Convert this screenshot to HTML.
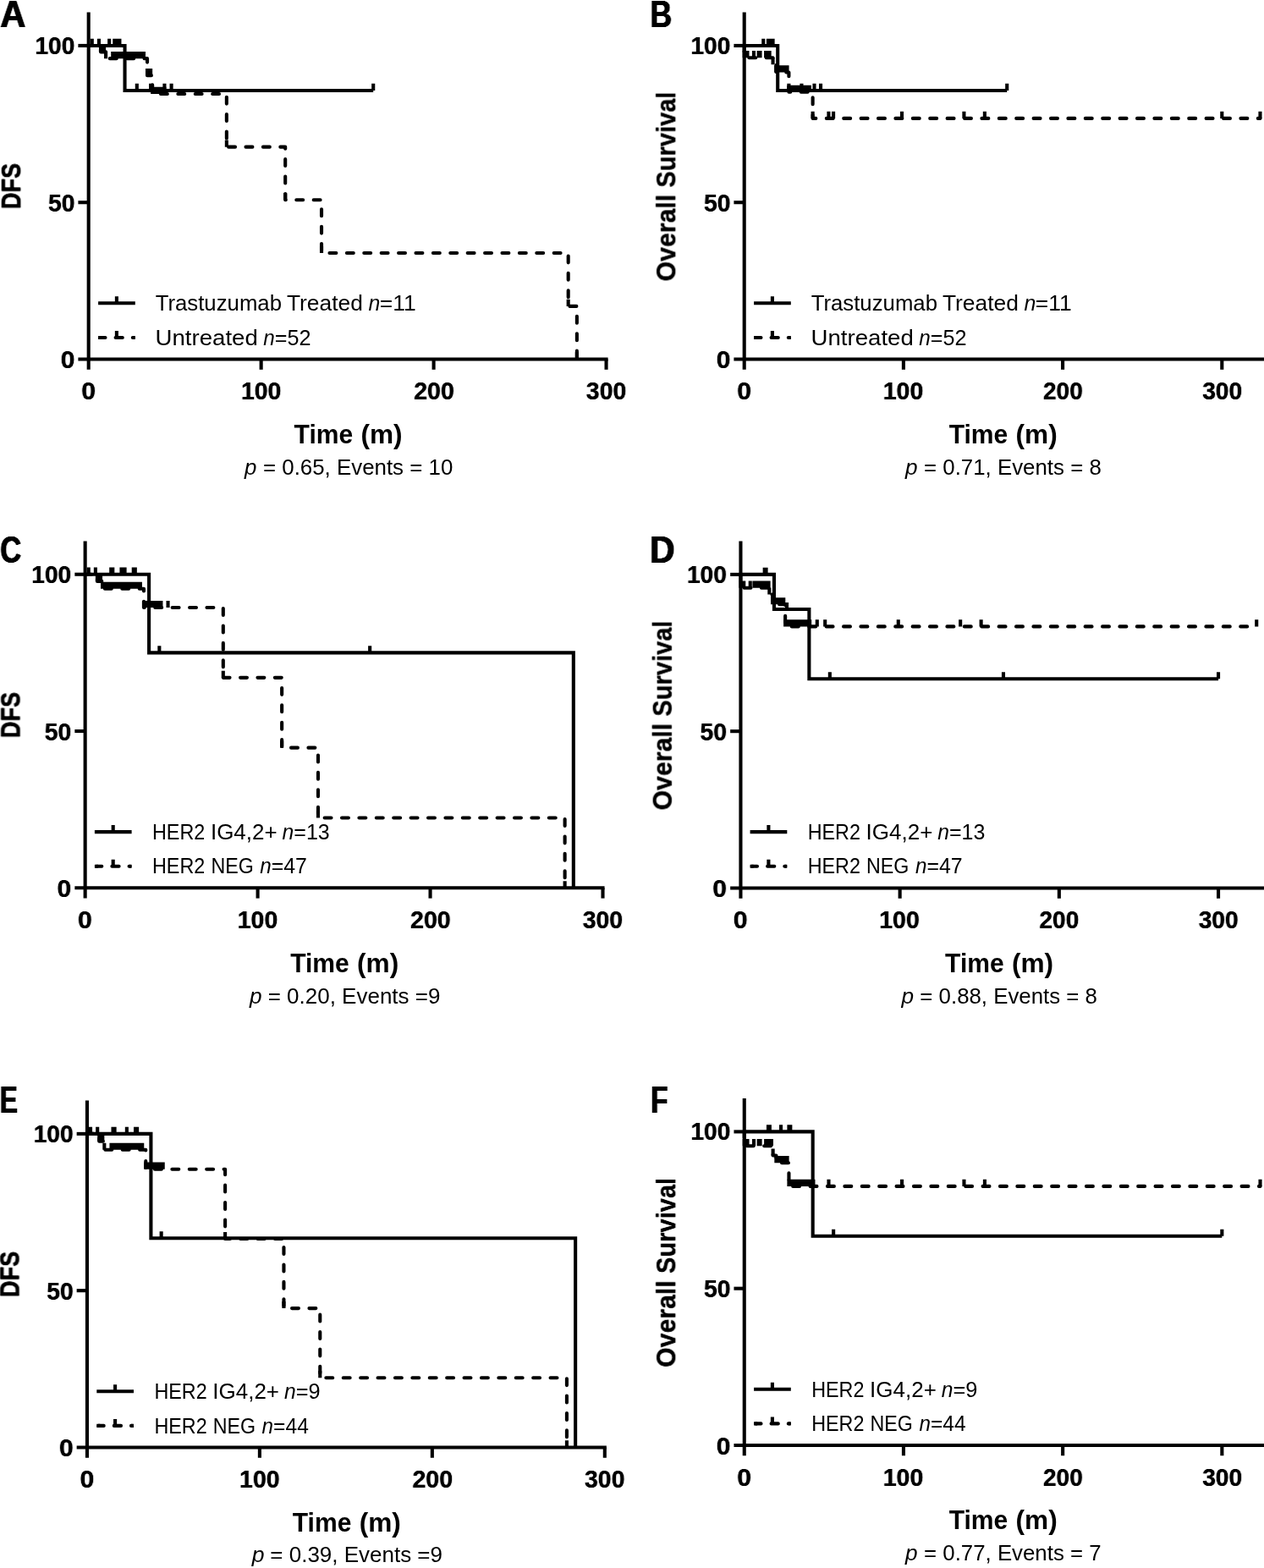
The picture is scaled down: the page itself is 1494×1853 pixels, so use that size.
<!DOCTYPE html>
<html lang="en">
<head>
<meta charset="utf-8">
<title>Kaplan-Meier survival curves</title>
<style>
html,body{margin:0;padding:0;background:#fff}
body{width:1494px;height:1853px}
svg{display:block}
text{font-family:"Liberation Sans",sans-serif;fill:#000}
.ax line{stroke:#000;stroke-width:4.1;stroke-linecap:butt}
.sc{fill:none;stroke:#000;stroke-width:4.1;stroke-linejoin:miter;stroke-linecap:butt}
.dc{fill:none;stroke:#000;stroke-width:4.1;stroke-linejoin:round;stroke-linecap:round;stroke-dasharray:7.9 12.5}
.lg .dc{stroke-dasharray:none}
.dl,.dr{fill:none;stroke:#000;stroke-width:4.1}
.tk{fill:none;stroke:#000;stroke-width:4.1;stroke-linecap:butt}
</style>
</head>
<body>
<svg width="1494" height="1853" viewBox="0 0 1494 1853">
<rect width="1494" height="1853" fill="#fff"/>
<defs>
<filter id="h20" x="-20%" y="-20%" width="140%" height="140%" color-interpolation-filters="sRGB"><feConvolveMatrix order="3 1" kernelMatrix="0.2 1 0.2" divisor="1" edgeMode="none" preserveAlpha="false"/></filter>
<filter id="h45" x="-20%" y="-20%" width="140%" height="140%" color-interpolation-filters="sRGB"><feConvolveMatrix order="3 1" kernelMatrix="0.45 1 0.45" divisor="1" edgeMode="none" preserveAlpha="false"/></filter>
<filter id="v20" x="-20%" y="-20%" width="140%" height="140%" color-interpolation-filters="sRGB"><feConvolveMatrix order="1 3" kernelMatrix="0.2 1 0.2" divisor="1" edgeMode="none" preserveAlpha="false"/></filter>
<filter id="v35" x="-20%" y="-20%" width="140%" height="140%" color-interpolation-filters="sRGB"><feConvolveMatrix order="1 3" kernelMatrix="0.35 1 0.35" divisor="1" edgeMode="none" preserveAlpha="false"/></filter>
</defs>
<g id="pA">
<g class="ax">
<line x1="104.7" y1="14.6" x2="104.7" y2="436.8"/>
<line x1="92.4" y1="424.5" x2="718.6" y2="424.5"/>
<line x1="92.4" y1="239.22" x2="104.7" y2="239.22"/>
<line x1="92.4" y1="53.95" x2="104.7" y2="53.95"/>
<line x1="308.65" y1="424.5" x2="308.65" y2="436.8"/>
<line x1="512.6" y1="424.5" x2="512.6" y2="436.8"/>
<line x1="716.55" y1="424.5" x2="716.55" y2="436.8"/>
</g>
<path d="M104.7 53.95 118.98 53.95 118.98 61.36 125.09 61.36 125.09 69.14 174.04 69.14 174.04 89.15 180.16 89.15 180.16 111.01 267.86 111.01 267.86 173.64 337.2 173.64 337.2 236.26 380.03 236.26 380.03 299.07 671.68 299.07 671.68 361.88 681.88 361.88 681.88 424.5 681.88 424.5" class="dc" stroke-dashoffset="0.5"/>
<path d="M118.98 61.36v-8.15M125.09 69.14v-8.15M174.04 89.15v-8.15M180.16 111.01v-8.15M267.86 173.64v-8.15M337.2 236.26v-8.15M380.03 299.07v-8.15M671.68 361.88v-8.15M681.88 424.5v-8.15M108.78 53.95v-8.15M116.94 53.95v-8.15M121.02 61.36v-8.15M123.06 61.36v-8.15M133.25 69.14v-8.15M136.31 69.14v-8.15M139.37 69.14v-8.15M142.43 69.14v-8.15M145.49 69.14v-8.15M148.55 69.14v-8.15M151.61 69.14v-8.15M154.67 69.14v-8.15M157.73 69.14v-8.15M160.79 69.14v-8.15M163.85 69.14v-8.15M166.9 69.14v-8.15M169.96 69.14v-8.15M176.08 89.15v-8.15M178.12 89.15v-8.15M182.2 111.01v-8.15M185.26 111.01v-8.15M188.32 111.01v-8.15M191.38 111.01v-8.15M194.44 111.01v-8.15" class="tk"/>
<path d="M104.7 53.95 147.53 53.95 147.53 106.94 441.22 106.94" class="sc"/>
<path d="M129.17 53.95v-8.15M135.29 53.95v-8.15M139.37 53.95v-8.15M141.41 53.95v-8.15M161.81 106.94v-8.15M178.12 106.94v-8.15M194.44 106.94v-8.15M202.6 106.94v-8.15M441.22 106.94v-8.15" class="tk"/>
<g class="lg">
<path d="M116.1 358.3H159.8" class="sc"/>
<path d="M116.1 399H120.1M157.2 399H159.8" class="sc"/>
<path d="M118.2 399H124.5M136.6 399H144.8M156.8 399H157.8" class="dc"/>
<path d="M137.9 358.3v-8M137.9 399v-8" class="tk"/>
</g>
<g class="lt">
<text transform="translate(183.63 367.15) scale(1.0068 1.0000)" font-size="25.6">Trastuzumab</text>
<text transform="translate(338.92 367.15) scale(1.0309 1.0000)" font-size="25.6">Treated</text>
<text transform="translate(435.39 367.15) scale(0.9716 1.0000)" font-size="25.6" font-style="italic">n</text>
<text transform="translate(448.72 367.15) scale(1.0348 1.0000)" font-size="25.6">=11</text>
<text transform="translate(183.57 407.6) scale(1.0789 1.0000)" font-size="25.6">Untreated</text>
<text transform="translate(311.2 407.6) scale(0.9479 1.0000)" font-size="25.6" font-style="italic">n</text>
<text transform="translate(324.68 407.6) scale(0.9854 1.0000)" font-size="25.6">=52</text>
</g>
<g class="tl">
<text transform="translate(41.44 64) scale(0.9850 1.0000)" font-size="28.6" font-weight="bold" filter="url(#h20)">100</text>
<text transform="translate(56.94 249.8) scale(0.9908 1.0000)" font-size="28.6" font-weight="bold" filter="url(#h20)">50</text>
<text transform="translate(71.81 435.1) scale(1.0504 1.0000)" font-size="28.6" font-weight="bold" filter="url(#h20)">0</text>
<text transform="translate(96.21 472.1) scale(1.0578 1.0000)" font-size="28.6" font-weight="bold" filter="url(#h20)">0</text>
<text transform="translate(284.92 472.1) scale(0.9961 1.0000)" font-size="28.6" font-weight="bold" filter="url(#h20)">100</text>
<text transform="translate(489.21 472.1) scale(1.0006 1.0000)" font-size="28.6" font-weight="bold" filter="url(#h20)">200</text>
<text transform="translate(692.86 472.1) scale(0.9931 1.0000)" font-size="28.6" font-weight="bold" filter="url(#h20)">300</text>
</g>
<g class="ti">
<text transform="translate(0.32 31.9) scale(0.9532 1.0000)" font-size="43.9" font-weight="bold" filter="url(#h45)">A</text>
<text transform="translate(24.1 247.26) rotate(-90) scale(0.8636 1.0000)" font-size="31.6" font-weight="bold" filter="url(#v35)">DFS</text>
<text transform="translate(347.57 523.9) scale(0.9639 1.0000)" font-size="31.2" font-weight="bold">Time</text>
<text transform="translate(426.43 523.9) scale(1.0148 1.0000)" font-size="31.2" font-weight="bold">(m)</text>
</g>
<g class="pv">
<text transform="translate(289.05 560.5) scale(0.9724 1.0000)" font-size="26.6" font-style="italic">p</text>
<text transform="translate(310.94 560.5) scale(0.9729 1.0000)" font-size="26.6">= 0.65, Events = 10</text>
</g>
</g>
<g id="pB">
<g class="ax">
<line x1="879.7" y1="14.6" x2="879.7" y2="436.8"/>
<line x1="867.4" y1="424.5" x2="1494" y2="424.5"/>
<line x1="867.4" y1="239.22" x2="879.7" y2="239.22"/>
<line x1="867.4" y1="53.95" x2="879.7" y2="53.95"/>
<line x1="1067.9" y1="424.5" x2="1067.9" y2="436.8"/>
<line x1="1256.1" y1="424.5" x2="1256.1" y2="436.8"/>
<line x1="1444.3" y1="424.5" x2="1444.3" y2="436.8"/>
</g>
<path d="M879.7 53.95 879.7 53.95 879.7 68.22 913.58 68.22 913.58 76.18 917.34 76.18 917.34 85.45 932.4 85.45 932.4 108.79 960.63 108.79 960.63 139.92 1489.47 139.92" class="dc" stroke-dashoffset="0.5"/>
<path d="M879.7 68.22v-8.15M913.58 76.18v-8.15M917.34 85.45v-8.15M932.4 108.79v-8.15M960.63 139.92v-8.15M883.46 68.22v-8.15M890.99 68.22v-8.15M896.64 68.22v-8.15M898.52 68.22v-8.15M905.11 68.22v-8.15M907.37 68.22v-8.15M909.62 68.22v-8.15M919.22 85.45v-8.15M922.05 85.45v-8.15M924.87 85.45v-8.15M927.69 85.45v-8.15M930.51 85.45v-8.15M934.28 108.79v-8.15M938.04 108.79v-8.15M941.81 108.79v-8.15M945.57 108.79v-8.15M949.33 108.79v-8.15M953.1 108.79v-8.15M956.86 108.79v-8.15M979.45 139.92v-8.15M985.09 139.92v-8.15M1066.02 139.92v-8.15M1139.42 139.92v-8.15M1163.88 139.92v-8.15M1444.3 139.92v-8.15M1489.47 139.92v-8.15" class="tk"/>
<path d="M879.7 53.95 919.22 53.95 919.22 106.94 1190.23 106.94" class="sc"/>
<path d="M902.28 53.95v-8.15M907.93 53.95v-8.15M911.69 53.95v-8.15M913.58 53.95v-8.15M932.4 106.94v-8.15M947.45 106.94v-8.15M962.51 106.94v-8.15M970.04 106.94v-8.15M1190.23 106.94v-8.15" class="tk"/>
<g class="lg">
<path d="M891.1 358.3H934.8" class="sc"/>
<path d="M891.1 399H895.1M932.2 399H934.8" class="sc"/>
<path d="M893.2 399H899.5M911.6 399H919.8M931.8 399H932.8" class="dc"/>
<path d="M912.9 358.3v-8M912.9 399v-8" class="tk"/>
</g>
<g class="lt">
<text transform="translate(958.63 367.15) scale(1.0068 1.0000)" font-size="25.6">Trastuzumab</text>
<text transform="translate(1113.92 367.15) scale(1.0309 1.0000)" font-size="25.6">Treated</text>
<text transform="translate(1210.39 367.15) scale(0.9716 1.0000)" font-size="25.6" font-style="italic">n</text>
<text transform="translate(1223.72 367.15) scale(1.0348 1.0000)" font-size="25.6">=11</text>
<text transform="translate(958.57 407.6) scale(1.0789 1.0000)" font-size="25.6">Untreated</text>
<text transform="translate(1086.2 407.6) scale(0.9479 1.0000)" font-size="25.6" font-style="italic">n</text>
<text transform="translate(1099.68 407.6) scale(0.9854 1.0000)" font-size="25.6">=52</text>
</g>
<g class="tl">
<text transform="translate(816.44 64) scale(0.9850 1.0000)" font-size="28.6" font-weight="bold" filter="url(#h20)">100</text>
<text transform="translate(831.94 249.8) scale(0.9908 1.0000)" font-size="28.6" font-weight="bold" filter="url(#h20)">50</text>
<text transform="translate(846.81 435.1) scale(1.0504 1.0000)" font-size="28.6" font-weight="bold" filter="url(#h20)">0</text>
<text transform="translate(871.21 472.1) scale(1.0578 1.0000)" font-size="28.6" font-weight="bold" filter="url(#h20)">0</text>
<text transform="translate(1043.72 472.1) scale(0.9961 1.0000)" font-size="28.6" font-weight="bold" filter="url(#h20)">100</text>
<text transform="translate(1233.03 472.1) scale(0.9786 1.0000)" font-size="28.6" font-weight="bold" filter="url(#h20)">200</text>
<text transform="translate(1421.17 472.1) scale(0.9866 1.0000)" font-size="28.6" font-weight="bold" filter="url(#h20)">300</text>
</g>
<g class="ti">
<text transform="translate(768.49 31.8) scale(0.8097 1.0000)" font-size="43.9" font-weight="bold" filter="url(#h45)">B</text>
<text transform="translate(798.2 332.44) rotate(-90) scale(0.9590 1.0000)" font-size="31.6" font-weight="bold" filter="url(#v20)">Overall</text>
<text transform="translate(798.2 221.63) rotate(-90) scale(0.9204 1.0000)" font-size="31.6" font-weight="bold" filter="url(#v20)">Survival</text>
<text transform="translate(1121.67 523.9) scale(0.9639 1.0000)" font-size="31.2" font-weight="bold">Time</text>
<text transform="translate(1200.53 523.9) scale(1.0148 1.0000)" font-size="31.2" font-weight="bold">(m)</text>
</g>
<g class="pv">
<text transform="translate(1069.96 560.5) scale(0.9861 1.0000)" font-size="26.6" font-style="italic">p</text>
<text transform="translate(1092.05 560.5) scale(0.9716 1.0000)" font-size="26.6">= 0.71, Events = 8</text>
</g>
</g>
<g id="pC">
<g class="ax">
<line x1="100.65" y1="639.4" x2="100.65" y2="1061.6"/>
<line x1="88.35" y1="1049.3" x2="714.55" y2="1049.3"/>
<line x1="88.35" y1="864.02" x2="100.65" y2="864.02"/>
<line x1="88.35" y1="678.75" x2="100.65" y2="678.75"/>
<line x1="304.6" y1="1049.3" x2="304.6" y2="1061.6"/>
<line x1="508.55" y1="1049.3" x2="508.55" y2="1061.6"/>
<line x1="712.5" y1="1049.3" x2="712.5" y2="1061.6"/>
</g>
<path d="M100.65 678.75 114.93 678.75 114.93 686.9 121.05 686.9 121.05 695.8 169.99 695.8 169.99 718.03 263.81 718.03 263.81 800.85 333.15 800.85 333.15 883.66 375.98 883.66 375.98 966.48 667.63 966.48 667.63 1049.3 667.63 1049.3" class="dc" stroke-dashoffset="0.5"/>
<path d="M114.93 686.9v-8.15M121.05 695.8v-8.15M169.99 718.03v-8.15M263.81 800.85v-8.15M333.15 883.66v-8.15M375.98 966.48v-8.15M667.63 1049.3v-8.15M116.97 686.9v-8.15M119.01 686.9v-8.15M123.08 695.8v-8.15M126.14 695.8v-8.15M129.2 695.8v-8.15M132.26 695.8v-8.15M135.32 695.8v-8.15M138.38 695.8v-8.15M141.44 695.8v-8.15M144.5 695.8v-8.15M147.56 695.8v-8.15M150.62 695.8v-8.15M153.68 695.8v-8.15M156.74 695.8v-8.15M159.8 695.8v-8.15M162.85 695.8v-8.15M165.91 695.8v-8.15M172.03 718.03v-8.15M175.09 718.03v-8.15M178.15 718.03v-8.15M181.21 718.03v-8.15M184.27 718.03v-8.15M187.33 718.03v-8.15M190.39 718.03v-8.15M198.55 718.03v-8.15" class="tk"/>
<path d="M100.65 678.75 176.11 678.75 176.11 771.39 677.83 771.39 677.83 1049.3 677.83 1049.3" class="sc"/>
<path d="M104.73 678.75v-8.15M112.89 678.75v-8.15M131.24 678.75v-8.15M133.28 678.75v-8.15M143.48 678.75v-8.15M147.56 678.75v-8.15M157.76 678.75v-8.15M159.8 678.75v-8.15M188.35 771.39v-8.15M437.17 771.39v-8.15" class="tk"/>
<g class="lg">
<path d="M111.9 983.1H155.6" class="sc"/>
<path d="M111.9 1023.8H115.9M153 1023.8H155.6" class="sc"/>
<path d="M114 1023.8H120.3M132.4 1023.8H140.6M152.6 1023.8H153.6" class="dc"/>
<path d="M133.7 983.1v-8M133.7 1023.8v-8" class="tk"/>
</g>
<g class="lt">
<text transform="translate(179.99 991.95) scale(0.9120 1.0000)" font-size="25.6">HER2</text>
<text transform="translate(248.91 991.95) scale(1.0154 1.0000)" font-size="25.6">IG4,2+</text>
<text transform="translate(333.59 991.95) scale(0.9637 1.0000)" font-size="25.6" font-style="italic">n</text>
<text transform="translate(347.29 991.95) scale(0.9766 1.0000)" font-size="25.6">=13</text>
<text transform="translate(179.99 1032.4) scale(0.9120 1.0000)" font-size="25.6">HER2</text>
<text transform="translate(249.4 1032.4) scale(0.9073 1.0000)" font-size="25.6">NEG</text>
<text transform="translate(307.2 1032.4) scale(0.9479 1.0000)" font-size="25.6" font-style="italic">n</text>
<text transform="translate(320.69 1032.4) scale(0.9732 1.0000)" font-size="25.6">=47</text>
</g>
<g class="tl">
<text transform="translate(37.24 688.8) scale(0.9850 1.0000)" font-size="28.6" font-weight="bold" filter="url(#h20)">100</text>
<text transform="translate(52.74 874.6) scale(0.9908 1.0000)" font-size="28.6" font-weight="bold" filter="url(#h20)">50</text>
<text transform="translate(67.61 1059.9) scale(1.0504 1.0000)" font-size="28.6" font-weight="bold" filter="url(#h20)">0</text>
<text transform="translate(92.01 1096.9) scale(1.0578 1.0000)" font-size="28.6" font-weight="bold" filter="url(#h20)">0</text>
<text transform="translate(280.72 1096.9) scale(0.9961 1.0000)" font-size="28.6" font-weight="bold" filter="url(#h20)">100</text>
<text transform="translate(485.01 1096.9) scale(1.0006 1.0000)" font-size="28.6" font-weight="bold" filter="url(#h20)">200</text>
<text transform="translate(688.66 1096.9) scale(0.9931 1.0000)" font-size="28.6" font-weight="bold" filter="url(#h20)">300</text>
</g>
<g class="ti">
<text transform="translate(0.33 665.1) scale(0.7872 1.0000)" font-size="43.9" font-weight="bold" filter="url(#h45)">C</text>
<text transform="translate(23.4 872.26) rotate(-90) scale(0.8636 1.0000)" font-size="31.6" font-weight="bold" filter="url(#v35)">DFS</text>
<text transform="translate(343.17 1148.9) scale(0.9639 1.0000)" font-size="31.2" font-weight="bold">Time</text>
<text transform="translate(422.03 1148.9) scale(1.0148 1.0000)" font-size="31.2" font-weight="bold">(m)</text>
</g>
<g class="pv">
<text transform="translate(294.96 1185.5) scale(0.9861 1.0000)" font-size="26.6" font-style="italic">p</text>
<text transform="translate(316.64 1185.5) scale(0.9778 1.0000)" font-size="26.6">= 0.20, Events =9</text>
</g>
</g>
<g id="pD">
<g class="ax">
<line x1="875.45" y1="639.55" x2="875.45" y2="1061.75"/>
<line x1="863.15" y1="1049.45" x2="1494" y2="1049.45"/>
<line x1="863.15" y1="864.17" x2="875.45" y2="864.17"/>
<line x1="863.15" y1="678.9" x2="875.45" y2="678.9"/>
<line x1="1063.65" y1="1049.45" x2="1063.65" y2="1061.75"/>
<line x1="1251.85" y1="1049.45" x2="1251.85" y2="1061.75"/>
<line x1="1440.05" y1="1049.45" x2="1440.05" y2="1061.75"/>
</g>
<path d="M875.45 678.9 875.45 678.9 875.45 694.69 909.33 694.69 909.33 702.62 913.09 702.62 913.09 714.29 928.15 714.29 928.15 740.41 1485.22 740.41" class="dc" stroke-dashoffset="0.5"/>
<path d="M875.45 694.69v-8.15M909.33 702.62v-8.15M913.09 714.29v-8.15M928.15 740.41v-8.15M879.21 694.69v-8.15M886.74 694.69v-8.15M891.45 694.69v-8.15M893.89 694.69v-8.15M896.34 694.69v-8.15M898.79 694.69v-8.15M901.23 694.69v-8.15M903.68 694.69v-8.15M906.13 694.69v-8.15M908.57 694.69v-8.15M914.97 714.29v-8.15M917.8 714.29v-8.15M920.62 714.29v-8.15M923.44 714.29v-8.15M926.26 714.29v-8.15M930.03 740.41v-8.15M933.42 740.41v-8.15M936.8 740.41v-8.15M940.19 740.41v-8.15M943.58 740.41v-8.15M946.97 740.41v-8.15M950.35 740.41v-8.15M953.74 740.41v-8.15M957.13 740.41v-8.15M965.79 740.41v-8.15M975.2 740.41v-8.15M1061.77 740.41v-8.15M1135.17 740.41v-8.15M1159.63 740.41v-8.15M1485.22 740.41v-8.15" class="tk"/>
<path d="M875.45 678.9 914.97 678.9 914.97 720.03 956.38 720.03 956.38 802.29 1440.05 802.29" class="sc"/>
<path d="M903.68 678.9v-8.15M905.56 678.9v-8.15M930.03 720.03v-8.15M980.84 802.29v-8.15M1185.98 802.29v-8.15M1440.05 802.29v-8.15" class="tk"/>
<g class="lg">
<path d="M886.6 983.1H930.3" class="sc"/>
<path d="M886.6 1023.8H890.6M927.7 1023.8H930.3" class="sc"/>
<path d="M888.7 1023.8H895M907.1 1023.8H915.3M927.3 1023.8H928.3" class="dc"/>
<path d="M908.4 983.1v-8M908.4 1023.8v-8" class="tk"/>
</g>
<g class="lt">
<text transform="translate(954.69 991.95) scale(0.9120 1.0000)" font-size="25.6">HER2</text>
<text transform="translate(1023.61 991.95) scale(1.0154 1.0000)" font-size="25.6">IG4,2+</text>
<text transform="translate(1108.29 991.95) scale(0.9637 1.0000)" font-size="25.6" font-style="italic">n</text>
<text transform="translate(1121.99 991.95) scale(0.9766 1.0000)" font-size="25.6">=13</text>
<text transform="translate(954.69 1032.4) scale(0.9120 1.0000)" font-size="25.6">HER2</text>
<text transform="translate(1024.1 1032.4) scale(0.9073 1.0000)" font-size="25.6">NEG</text>
<text transform="translate(1081.9 1032.4) scale(0.9479 1.0000)" font-size="25.6" font-style="italic">n</text>
<text transform="translate(1095.39 1032.4) scale(0.9732 1.0000)" font-size="25.6">=47</text>
</g>
<g class="tl">
<text transform="translate(811.94 688.8) scale(0.9850 1.0000)" font-size="28.6" font-weight="bold" filter="url(#h20)">100</text>
<text transform="translate(827.44 874.6) scale(0.9908 1.0000)" font-size="28.6" font-weight="bold" filter="url(#h20)">50</text>
<text transform="translate(842.31 1059.9) scale(1.0504 1.0000)" font-size="28.6" font-weight="bold" filter="url(#h20)">0</text>
<text transform="translate(866.71 1096.9) scale(1.0578 1.0000)" font-size="28.6" font-weight="bold" filter="url(#h20)">0</text>
<text transform="translate(1039.22 1096.9) scale(0.9961 1.0000)" font-size="28.6" font-weight="bold" filter="url(#h20)">100</text>
<text transform="translate(1228.53 1096.9) scale(0.9786 1.0000)" font-size="28.6" font-weight="bold" filter="url(#h20)">200</text>
<text transform="translate(1416.67 1096.9) scale(0.9866 1.0000)" font-size="28.6" font-weight="bold" filter="url(#h20)">300</text>
</g>
<g class="ti">
<text transform="translate(767.92 664.9) scale(0.9349 1.0000)" font-size="43.9" font-weight="bold" filter="url(#h45)">D</text>
<text transform="translate(793.8 957.44) rotate(-90) scale(0.9590 1.0000)" font-size="31.6" font-weight="bold" filter="url(#v20)">Overall</text>
<text transform="translate(793.8 846.63) rotate(-90) scale(0.9204 1.0000)" font-size="31.6" font-weight="bold" filter="url(#v20)">Survival</text>
<text transform="translate(1117.07 1148.9) scale(0.9639 1.0000)" font-size="31.2" font-weight="bold">Time</text>
<text transform="translate(1195.93 1148.9) scale(1.0148 1.0000)" font-size="31.2" font-weight="bold">(m)</text>
</g>
<g class="pv">
<text transform="translate(1065.46 1185.5) scale(0.9861 1.0000)" font-size="26.6" font-style="italic">p</text>
<text transform="translate(1087.35 1185.5) scale(0.9711 1.0000)" font-size="26.6">= 0.88, Events = 8</text>
</g>
</g>
<g id="pE">
<g class="ax">
<line x1="102.95" y1="1300.55" x2="102.95" y2="1722.75"/>
<line x1="90.65" y1="1710.45" x2="716.85" y2="1710.45"/>
<line x1="90.65" y1="1525.18" x2="102.95" y2="1525.18"/>
<line x1="90.65" y1="1339.9" x2="102.95" y2="1339.9"/>
<line x1="306.9" y1="1710.45" x2="306.9" y2="1722.75"/>
<line x1="510.85" y1="1710.45" x2="510.85" y2="1722.75"/>
<line x1="714.8" y1="1710.45" x2="714.8" y2="1722.75"/>
</g>
<path d="M102.95 1339.9 117.23 1339.9 117.23 1348.79 123.34 1348.79 123.34 1358.8 172.29 1358.8 172.29 1381.77 266.11 1381.77 266.11 1464.03 335.45 1464.03 335.45 1546.11 378.28 1546.11 378.28 1628.19 669.93 1628.19 669.93 1710.45 669.93 1710.45" class="dc" stroke-dashoffset="0.5"/>
<path d="M117.23 1348.79v-8.15M123.34 1358.8v-8.15M172.29 1381.77v-8.15M266.11 1464.03v-8.15M335.45 1546.11v-8.15M378.28 1628.19v-8.15M669.93 1710.45v-8.15M119.27 1348.79v-8.15M121.31 1348.79v-8.15M131.5 1358.8v-8.15M134.56 1358.8v-8.15M137.62 1358.8v-8.15M140.68 1358.8v-8.15M143.74 1358.8v-8.15M146.8 1358.8v-8.15M149.86 1358.8v-8.15M152.92 1358.8v-8.15M155.98 1358.8v-8.15M159.04 1358.8v-8.15M162.1 1358.8v-8.15M165.15 1358.8v-8.15M168.21 1358.8v-8.15M174.33 1381.77v-8.15M177.39 1381.77v-8.15M180.45 1381.77v-8.15M183.51 1381.77v-8.15M186.57 1381.77v-8.15M189.63 1381.77v-8.15M192.69 1381.77v-8.15" class="tk"/>
<path d="M102.95 1339.9 178.41 1339.9 178.41 1463.29 680.13 1463.29 680.13 1710.45 680.13 1710.45" class="sc"/>
<path d="M107.03 1339.9v-8.15M115.19 1339.9v-8.15M133.54 1339.9v-8.15M135.58 1339.9v-8.15M149.86 1339.9v-8.15M160.06 1339.9v-8.15M162.1 1339.9v-8.15M190.65 1463.29v-8.15" class="tk"/>
<g class="lg">
<path d="M114.3 1644.2H158" class="sc"/>
<path d="M114.3 1684.9H118.3M155.4 1684.9H158" class="sc"/>
<path d="M116.4 1684.9H122.7M134.8 1684.9H143M155 1684.9H156" class="dc"/>
<path d="M136.1 1644.2v-8M136.1 1684.9v-8" class="tk"/>
</g>
<g class="lt">
<text transform="translate(182.39 1653.05) scale(0.9120 1.0000)" font-size="25.6">HER2</text>
<text transform="translate(251.31 1653.05) scale(1.0154 1.0000)" font-size="25.6">IG4,2+</text>
<text transform="translate(335.99 1653.05) scale(0.9637 1.0000)" font-size="25.6" font-style="italic">n</text>
<text transform="translate(349.67 1653.05) scale(0.9911 1.0000)" font-size="25.6">=9</text>
<text transform="translate(182.39 1693.5) scale(0.9120 1.0000)" font-size="25.6">HER2</text>
<text transform="translate(251.8 1693.5) scale(0.9073 1.0000)" font-size="25.6">NEG</text>
<text transform="translate(309.6 1693.5) scale(0.9479 1.0000)" font-size="25.6" font-style="italic">n</text>
<text transform="translate(323.11 1693.5) scale(0.9606 1.0000)" font-size="25.6">=44</text>
</g>
<g class="tl">
<text transform="translate(39.64 1349.9) scale(0.9850 1.0000)" font-size="28.6" font-weight="bold" filter="url(#h20)">100</text>
<text transform="translate(55.14 1535.7) scale(0.9908 1.0000)" font-size="28.6" font-weight="bold" filter="url(#h20)">50</text>
<text transform="translate(70.01 1721) scale(1.0504 1.0000)" font-size="28.6" font-weight="bold" filter="url(#h20)">0</text>
<text transform="translate(94.41 1758) scale(1.0578 1.0000)" font-size="28.6" font-weight="bold" filter="url(#h20)">0</text>
<text transform="translate(283.12 1758) scale(0.9961 1.0000)" font-size="28.6" font-weight="bold" filter="url(#h20)">100</text>
<text transform="translate(487.41 1758) scale(1.0006 1.0000)" font-size="28.6" font-weight="bold" filter="url(#h20)">200</text>
<text transform="translate(691.06 1758) scale(0.9931 1.0000)" font-size="28.6" font-weight="bold" filter="url(#h20)">300</text>
</g>
<g class="ti">
<text transform="translate(-0.35 1315) scale(0.7181 1.0000)" font-size="43.9" font-weight="bold" filter="url(#h45)">E</text>
<text transform="translate(22.4 1533.16) rotate(-90) scale(0.8636 1.0000)" font-size="31.6" font-weight="bold" filter="url(#v35)">DFS</text>
<text transform="translate(345.77 1809.8) scale(0.9639 1.0000)" font-size="31.2" font-weight="bold">Time</text>
<text transform="translate(424.63 1809.8) scale(1.0148 1.0000)" font-size="31.2" font-weight="bold">(m)</text>
</g>
<g class="pv">
<text transform="translate(297.76 1846.4) scale(0.9998 1.0000)" font-size="26.6" font-style="italic">p</text>
<text transform="translate(319.34 1846.4) scale(0.9773 1.0000)" font-size="26.6">= 0.39, Events =9</text>
</g>
</g>
<g id="pF">
<g class="ax">
<line x1="879.75" y1="1298.05" x2="879.75" y2="1720.25"/>
<line x1="867.45" y1="1707.95" x2="1494" y2="1707.95"/>
<line x1="867.45" y1="1522.68" x2="879.75" y2="1522.68"/>
<line x1="867.45" y1="1337.4" x2="879.75" y2="1337.4"/>
<line x1="1067.95" y1="1707.95" x2="1067.95" y2="1720.25"/>
<line x1="1256.15" y1="1707.95" x2="1256.15" y2="1720.25"/>
<line x1="1444.35" y1="1707.95" x2="1444.35" y2="1720.25"/>
</g>
<path d="M879.75 1337.4 879.75 1337.4 879.75 1354.26 913.63 1354.26 913.63 1365.56 917.39 1365.56 917.39 1374.2 932.45 1374.2 932.45 1401.88 1489.52 1401.88" class="dc" stroke-dashoffset="0.5"/>
<path d="M879.75 1354.26v-8.15M913.63 1365.56v-8.15M917.39 1374.2v-8.15M932.45 1401.88v-8.15M883.51 1354.26v-8.15M891.04 1354.26v-8.15M896.69 1354.26v-8.15M898.57 1354.26v-8.15M905.16 1354.26v-8.15M907.42 1354.26v-8.15M909.67 1354.26v-8.15M911.93 1354.26v-8.15M919.27 1374.2v-8.15M922.1 1374.2v-8.15M924.92 1374.2v-8.15M927.74 1374.2v-8.15M930.56 1374.2v-8.15M934.33 1401.88v-8.15M937.72 1401.88v-8.15M941.1 1401.88v-8.15M944.49 1401.88v-8.15M947.88 1401.88v-8.15M951.27 1401.88v-8.15M954.65 1401.88v-8.15M958.04 1401.88v-8.15M961.43 1401.88v-8.15M979.5 1401.88v-8.15M1066.07 1401.88v-8.15M1139.47 1401.88v-8.15M1163.93 1401.88v-8.15M1489.52 1401.88v-8.15" class="tk"/>
<path d="M879.75 1337.4 960.68 1337.4 960.68 1460.79 1444.35 1460.79" class="sc"/>
<path d="M907.98 1337.4v-8.15M909.86 1337.4v-8.15M923.04 1337.4v-8.15M932.45 1337.4v-8.15M934.33 1337.4v-8.15M985.14 1460.79v-8.15M1444.35 1460.79v-8.15" class="tk"/>
<g class="lg">
<path d="M891.1 1641.7H934.8" class="sc"/>
<path d="M891.1 1682.4H895.1M932.2 1682.4H934.8" class="sc"/>
<path d="M893.2 1682.4H899.5M911.6 1682.4H919.8M931.8 1682.4H932.8" class="dc"/>
<path d="M912.9 1641.7v-8M912.9 1682.4v-8" class="tk"/>
</g>
<g class="lt">
<text transform="translate(959.19 1650.55) scale(0.9120 1.0000)" font-size="25.6">HER2</text>
<text transform="translate(1028.11 1650.55) scale(1.0154 1.0000)" font-size="25.6">IG4,2+</text>
<text transform="translate(1112.79 1650.55) scale(0.9637 1.0000)" font-size="25.6" font-style="italic">n</text>
<text transform="translate(1126.47 1650.55) scale(0.9911 1.0000)" font-size="25.6">=9</text>
<text transform="translate(959.19 1691) scale(0.9120 1.0000)" font-size="25.6">HER2</text>
<text transform="translate(1028.6 1691) scale(0.9073 1.0000)" font-size="25.6">NEG</text>
<text transform="translate(1086.4 1691) scale(0.9479 1.0000)" font-size="25.6" font-style="italic">n</text>
<text transform="translate(1099.91 1691) scale(0.9606 1.0000)" font-size="25.6">=44</text>
</g>
<g class="tl">
<text transform="translate(816.44 1347.4) scale(0.9850 1.0000)" font-size="28.6" font-weight="bold" filter="url(#h20)">100</text>
<text transform="translate(831.94 1533.2) scale(0.9908 1.0000)" font-size="28.6" font-weight="bold" filter="url(#h20)">50</text>
<text transform="translate(846.81 1718.5) scale(1.0504 1.0000)" font-size="28.6" font-weight="bold" filter="url(#h20)">0</text>
<text transform="translate(871.21 1755.5) scale(1.0578 1.0000)" font-size="28.6" font-weight="bold" filter="url(#h20)">0</text>
<text transform="translate(1043.72 1755.5) scale(0.9961 1.0000)" font-size="28.6" font-weight="bold" filter="url(#h20)">100</text>
<text transform="translate(1233.03 1755.5) scale(0.9786 1.0000)" font-size="28.6" font-weight="bold" filter="url(#h20)">200</text>
<text transform="translate(1421.17 1755.5) scale(0.9866 1.0000)" font-size="28.6" font-weight="bold" filter="url(#h20)">300</text>
</g>
<g class="ti">
<text transform="translate(769.25 1315) scale(0.7533 1.0000)" font-size="43.9" font-weight="bold" filter="url(#h45)">F</text>
<text transform="translate(798.2 1615.84) rotate(-90) scale(0.9590 1.0000)" font-size="31.6" font-weight="bold" filter="url(#v20)">Overall</text>
<text transform="translate(798.2 1505.03) rotate(-90) scale(0.9204 1.0000)" font-size="31.6" font-weight="bold" filter="url(#v20)">Survival</text>
<text transform="translate(1121.67 1807.2) scale(0.9639 1.0000)" font-size="31.2" font-weight="bold">Time</text>
<text transform="translate(1200.53 1807.2) scale(1.0148 1.0000)" font-size="31.2" font-weight="bold">(m)</text>
</g>
<g class="pv">
<text transform="translate(1069.96 1843.7) scale(0.9861 1.0000)" font-size="26.6" font-style="italic">p</text>
<text transform="translate(1092.05 1843.7) scale(0.9710 1.0000)" font-size="26.6">= 0.77, Events = 7</text>
</g>
</g>
</svg>
</body>
</html>
